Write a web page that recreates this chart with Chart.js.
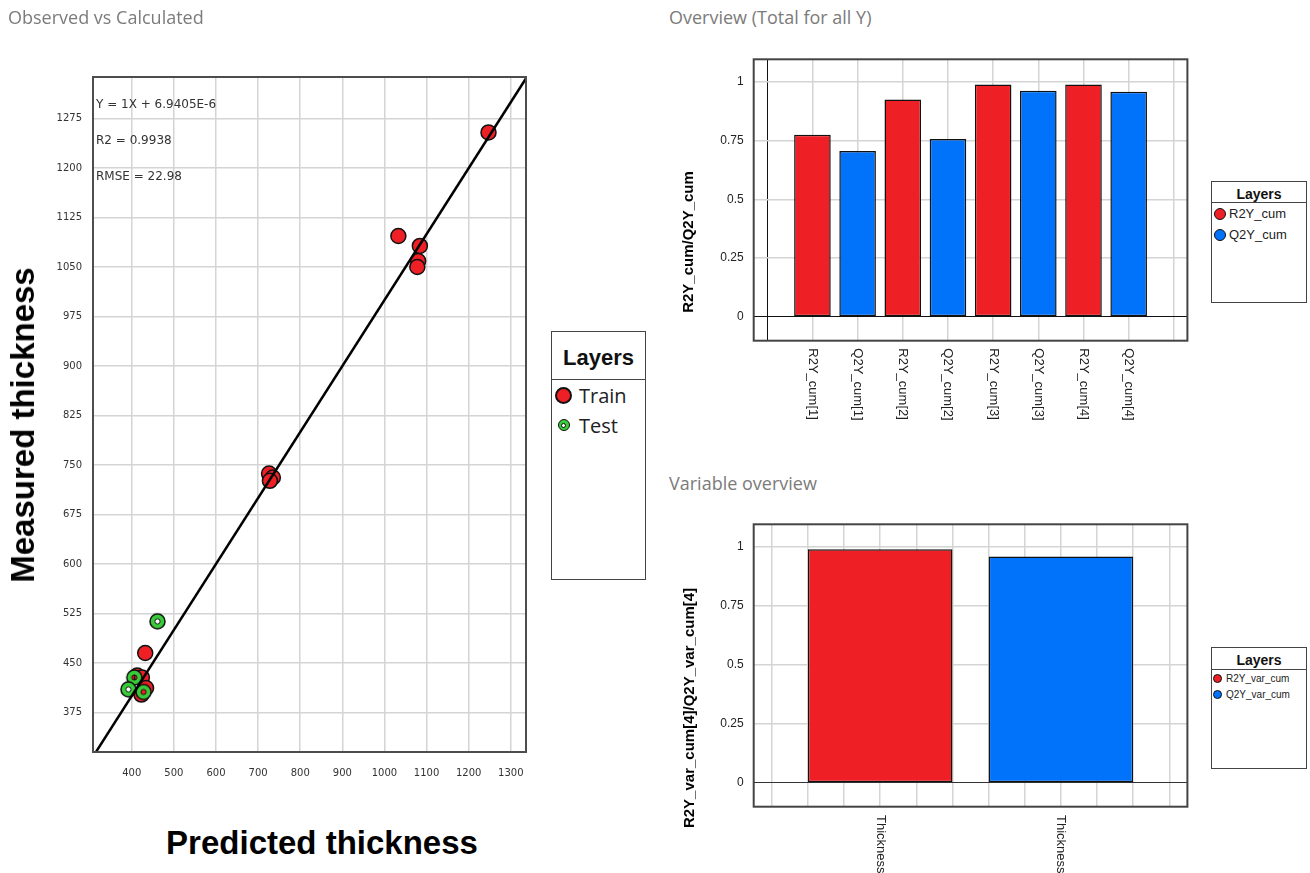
<!DOCTYPE html>
<html>
<head>
<meta charset="utf-8">
<title>Observed vs Calculated</title>
<script src="https://cdn.jsdelivr.net/npm/chart.js@4.4.1/dist/chart.umd.min.js"></script>
<style>
  html, body { margin: 0; padding: 0; background: #fff; }
  body { position: relative; width: 1310px; height: 873px; overflow: hidden; font-family: "Liberation Sans", Arial, sans-serif; }
  canvas { position: absolute; }
  .title { position: absolute; font-family: "Open Sans", sans-serif; font-size: 18px; line-height: 24px; color: #7b7b7b; white-space: nowrap; }
  .note { position: absolute; left: 96px; font-family: "DejaVu Sans", sans-serif; font-size: 12px; line-height: 14px; color: #333; white-space: nowrap; }
  .axis-title { position: absolute; transform: translate(-50%, -50%); font-weight: bold; white-space: nowrap; color: #000; }
  .axis-title.v { transform: translate(-50%, -50%) rotate(-90deg); }
  .legend { position: absolute; box-sizing: border-box; border: 1.5px solid #444; background: #fff; }
  .legend .head { text-align: center; font-weight: bold; border-bottom: 1.5px solid #444; overflow: hidden; color: #111; }
  .legend .item { display: flex; align-items: center; white-space: nowrap; color: #222; }
  .dot { box-sizing: border-box; border-radius: 50%; border: 1.5px solid #111; flex: none; }
  .slot { display: flex; justify-content: center; align-items: center; flex: none; }
</style>
</head>
<body>

<canvas id="scatter" width="540" height="790" style="left:0;top:0;"></canvas>
<canvas id="overview" width="540" height="410" style="left:660px;top:30px;"></canvas>
<canvas id="variable" width="540" height="378" style="left:660px;top:495px;"></canvas>

<div class="title" style="left:8px;top:5px;">Observed vs Calculated</div>
<div class="title" style="left:669px;top:5px;">Overview (Total for all Y)</div>
<div class="title" style="left:669px;top:471px;">Variable overview</div>

<div class="note" style="top:97px;">Y = 1X + 6.9405E-6</div>
<div class="note" style="top:133px;">R2 = 0.9938</div>
<div class="note" style="top:169px;">RMSE = 22.98</div>

<div class="axis-title v" style="left:23px;top:425px;font-size:33px;">Measured thickness</div>
<div class="axis-title" style="left:322px;top:843px;font-size:33px;">Predicted thickness</div>
<div class="axis-title v" style="left:687px;top:242px;font-size:15px;">R2Y_cum/Q2Y_cum</div>
<div class="axis-title v" style="left:688px;top:708px;font-size:15px;">R2Y_var_cum[4]/Q2Y_var_cum[4]</div>

<!-- legends -->
<div class="legend" style="left:551px;top:331px;width:95px;height:249px;">
  <div class="head" style="font-size:22px;height:47px;line-height:52px;">Layers</div>
  <div class="item" style="height:30px;padding-left:3px;font-family:'Open Sans',sans-serif;font-size:20px;">
    <span class="dot" style="width:17px;height:17px;background:#ee1f25;border-width:2.5px;"></span>
    <span style="margin-left:7px;">Train</span>
  </div>
  <div class="item" style="height:30px;padding-left:3px;font-family:'Open Sans',sans-serif;font-size:20px;">
    <span class="slot" style="width:17px;height:17px;">
      <span class="dot slot" style="width:12px;height:12px;background:#39cc39;">
        <span class="dot" style="width:5px;height:5px;background:#fff;border-width:1px;"></span>
      </span>
    </span>
    <span style="margin-left:7px;">Test</span>
  </div>
</div>

<div class="legend" style="left:1211px;top:181px;width:96px;height:122px;">
  <div class="head" style="font-size:14px;height:20px;line-height:24px;">Layers</div>
  <div class="item" style="height:21px;padding-left:2px;font-size:13px;">
    <span class="dot" style="width:12px;height:12px;background:#ee1f25;"></span>
    <span style="margin-left:3px;">R2Y_cum</span>
  </div>
  <div class="item" style="height:21px;padding-left:2px;font-size:13px;">
    <span class="dot" style="width:12px;height:12px;background:#0073fa;"></span>
    <span style="margin-left:3px;">Q2Y_cum</span>
  </div>
</div>

<div class="legend" style="left:1211px;top:647px;width:96px;height:122px;">
  <div class="head" style="font-size:14px;height:21px;line-height:25px;">Layers</div>
  <div class="item" style="height:16px;padding-left:1px;font-size:10px;">
    <span class="dot" style="width:9px;height:9px;background:#ee1f25;border-width:1px;"></span>
    <span style="margin-left:4px;">R2Y_var_cum</span>
  </div>
  <div class="item" style="height:16px;padding-left:1px;font-size:10px;">
    <span class="dot" style="width:9px;height:9px;background:#0073fa;border-width:1px;"></span>
    <span style="margin-left:4px;">Q2Y_var_cum</span>
  </div>
</div>

<script>
// Observed vs Calculated (predicted, measured thickness)
const trainPred = [1247, 1033, 1084, 1080, 1078, 726, 735, 728, 432, 413, 424, 434, 423];
const trainMeas = [1254, 1097, 1082, 1059, 1050, 737, 731, 726, 465, 431, 428, 412, 402];
const testPred = [461, 406, 392, 428];
const testMeas = [513, 428, 410, 406];
// fitted line Y = 1X + 6.9405E-6 (ends lie outside the axes)
const fitPred = [300, 1340];
const fitMeas = [300, 1340];
const predTicks = [400, 500, 600, 700, 800, 900, 1000, 1100, 1200, 1300];
const measTicks = [375, 450, 525, 600, 675, 750, 825, 900, 975, 1050, 1125, 1200, 1275];

// Overview (Total for all Y)
const overviewLabels = ['R2Y_cum[1]', 'Q2Y_cum[1]', 'R2Y_cum[2]', 'Q2Y_cum[2]',
                        'R2Y_cum[3]', 'Q2Y_cum[3]', 'R2Y_cum[4]', 'Q2Y_cum[4]'];
const r2yCum = [0.776, 0.926, 0.990, 0.990];
const q2yCum = [0.706, 0.757, 0.963, 0.959];

// Variable overview
const variableLabels = ['Thickness', 'Thickness'];
const r2yVarCum = [0.991];
const q2yVarCum = [0.960];

const fractionTicks = [0, 0.25, 0.5, 0.75, 1];

const RED = '#ee1f25';
const BLUE = '#0073fa';
const GREEN = '#39cc39';
const GRID = '#d4d4d4';

Chart.defaults.font.family = '"Liberation Sans", Arial, sans-serif';
Chart.defaults.color = '#222';

// green ring marker for test samples, hole is see-through
function ringMarker(r, hole, fill) {
    const c = document.createElement('canvas');
    const s = Math.ceil(2 * r + 4);
    c.width = c.height = s;
    const g = c.getContext('2d');
    const m = s / 2;
    g.beginPath(); g.arc(m, m, r, 0, Math.PI * 2);
    g.fillStyle = fill; g.fill();
    g.lineWidth = 1.5; g.strokeStyle = '#111'; g.stroke();
    g.globalCompositeOperation = 'destination-out';
    g.beginPath(); g.arc(m, m, hole, 0, Math.PI * 2); g.fill();
    g.globalCompositeOperation = 'source-over';
    g.beginPath(); g.arc(m, m, hole, 0, Math.PI * 2);
    g.lineWidth = 1; g.stroke();
    return c;
}

function framePlugin(color, width) {
    return {
        id: 'frame',
        afterDraw(chart) {
            const { ctx, chartArea: a } = chart;
            ctx.save();
            ctx.strokeStyle = color;
            ctx.lineWidth = width;
            ctx.strokeRect(a.left, a.top, a.right - a.left, a.bottom - a.top);
            ctx.restore();
        }
    };
}

// category labels read top to bottom under the bars
function sideLabels(labels, positions, gap, font) {
    return {
        id: 'sideLabels',
        afterDraw(chart) {
            const { ctx, chartArea } = chart;
            const xs = chart.scales.x;
            ctx.save();
            ctx.font = font;
            ctx.fillStyle = '#222';
            ctx.textAlign = 'left';
            ctx.textBaseline = 'middle';
            labels.forEach((text, i) => {
                ctx.save();
                ctx.translate(xs.getPixelForValue(positions[i]), chartArea.bottom + gap);
                ctx.rotate(Math.PI / 2);
                ctx.fillText(text, 0, 0);
                ctx.restore();
            });
            ctx.restore();
        }
    };
}

const setTicks = list => scale => { scale.ticks = list.map(v => ({ value: v })); };
const zeroDark = c => (c.tick && c.tick.value === 0 ? '#111' : GRID);
const zeroWidth = c => (c.tick && c.tick.value === 0 ? 1 : 1.5);

// Scatter: Observed vs Calculated
new Chart(document.getElementById('scatter'), {
    type: 'scatter',
    data: {
        datasets: [
            {
                type: 'line', label: 'Fit',
                data: fitPred.map((x, i) => ({ x: x, y: fitMeas[i] })),
                borderColor: '#000', borderWidth: 2.5, pointRadius: 0, clip: 0, order: 0
            },
            {
                label: 'Test',
                data: testPred.map((x, i) => ({ x: x, y: testMeas[i] })),
                pointStyle: ringMarker(7.5, 2.6, GREEN), pointRadius: 8, order: 1
            },
            {
                label: 'Train',
                data: trainPred.map((x, i) => ({ x: x, y: trainMeas[i] })),
                backgroundColor: RED, borderColor: '#111', borderWidth: 1.5, pointRadius: 7.5, order: 2
            }
        ]
    },
    options: {
        responsive: false, animation: false, events: [],
        layout: { padding: { left: 53, right: 14, top: 77, bottom: 8 } },
        plugins: { legend: { display: false }, tooltip: { enabled: false } },
        scales: {
            x: {
                type: 'linear', min: 308, max: 1336,
                afterBuildTicks: setTicks(predTicks),
                afterFit: s => { s.height = 30; },
                grid: { color: GRID, lineWidth: 1.5, drawTicks: false },
                border: { display: false },
                ticks: { autoSkip: false, maxRotation: 0, padding: 15, color: '#333',
                         font: { family: '"DejaVu Sans"', size: 10 }, callback: v => String(v) }
            },
            y: {
                type: 'linear', min: 315, max: 1338,
                afterBuildTicks: setTicks(measTicks),
                afterFit: s => { s.width = 40; },
                grid: { color: GRID, lineWidth: 1.5, drawTicks: false },
                border: { display: false },
                ticks: { autoSkip: false, padding: 11, color: '#333',
                         font: { family: '"DejaVu Sans"', size: 10 }, callback: v => String(v) }
            }
        }
    },
    plugins: [framePlugin('#4d4d4d', 2)]
});

// Bar: Overview (Total for all Y)
const overviewPos = overviewLabels.map((_, i) => i + 1);
new Chart(document.getElementById('overview'), {
    type: 'bar',
    data: {
        datasets: [
            { label: 'R2Y_cum', data: r2yCum.map((v, i) => ({ x: 2 * i + 1, y: v })), backgroundColor: RED },
            { label: 'Q2Y_cum', data: q2yCum.map((v, i) => ({ x: 2 * i + 2, y: v })), backgroundColor: BLUE }
        ]
    },
    options: {
        responsive: false, animation: false, events: [],
        datasets: { bar: { grouped: false, borderColor: '#111', borderWidth: 1.5, borderSkipped: false,
                           categoryPercentage: 0.9, barPercentage: 0.9 } },
        layout: { padding: { left: 33.7, right: 12.6, top: 29.3, bottom: 99.3 } },
        plugins: { legend: { display: false }, tooltip: { enabled: false } },
        scales: {
            x: {
                type: 'linear', offset: false, min: -0.3, max: 9.3,
                afterBuildTicks: setTicks([0].concat(overviewPos, [overviewPos.length + 1])),
                afterFit: s => { s.height = 0; },
                ticks: { display: false },
                grid: { offset: false, drawTicks: false, color: zeroDark, lineWidth: zeroWidth },
                border: { display: false }
            },
            y: {
                min: -0.102, max: 1.097,
                afterBuildTicks: setTicks(fractionTicks),
                afterFit: s => { s.width = 60; },
                grid: { drawTicks: false, color: zeroDark, lineWidth: zeroWidth },
                border: { display: false },
                ticks: { padding: 10, font: { size: 12 }, color: '#222', callback: v => String(v) }
            }
        }
    },
    plugins: [framePlugin('#444', 2), sideLabels(overviewLabels, overviewPos, 7.6, '13px "Liberation Sans"')]
});

// Bar: Variable overview (bar width is 4 grid steps, grid every 0.2)
const variableGrid = Array.from({ length: 12 }, (_, i) => Math.round((0.4 + 0.2 * i) * 10) / 10);
new Chart(document.getElementById('variable'), {
    type: 'bar',
    data: {
        datasets: [
            { label: 'R2Y_var_cum', data: r2yVarCum.map(v => ({ x: 1, y: v })), backgroundColor: RED },
            { label: 'Q2Y_var_cum', data: q2yVarCum.map(v => ({ x: 2, y: v })), backgroundColor: BLUE }
        ]
    },
    options: {
        responsive: false, animation: false, events: [],
        datasets: { bar: { grouped: false, borderColor: '#111', borderWidth: 1.5, borderSkipped: false,
                           categoryPercentage: 1, barPercentage: 4 } },
        layout: { padding: { left: 33.7, right: 12.6, top: 29.3, bottom: 66.3 } },
        plugins: { legend: { display: false }, tooltip: { enabled: false } },
        scales: {
            x: {
                type: 'linear', offset: false, min: 0.3, max: 2.7,
                afterBuildTicks: setTicks(variableGrid),
                afterFit: s => { s.height = 0; },
                ticks: { display: false },
                grid: { offset: false, drawTicks: false, color: GRID, lineWidth: 1.5 },
                border: { display: false }
            },
            y: {
                min: -0.102, max: 1.097,
                afterBuildTicks: setTicks(fractionTicks),
                afterFit: s => { s.width = 60; },
                grid: { drawTicks: false, color: c => (c.tick && c.tick.value === 0 ? '#333' : GRID), lineWidth: zeroWidth },
                border: { display: false },
                ticks: { padding: 10, font: { size: 12 }, color: '#222', callback: v => String(v) }
            }
        }
    },
    plugins: [framePlugin('#444', 2), sideLabels(variableLabels, [1, 2], 8.3, '13px "Liberation Sans"')]
});
</script>
</body>
</html>
